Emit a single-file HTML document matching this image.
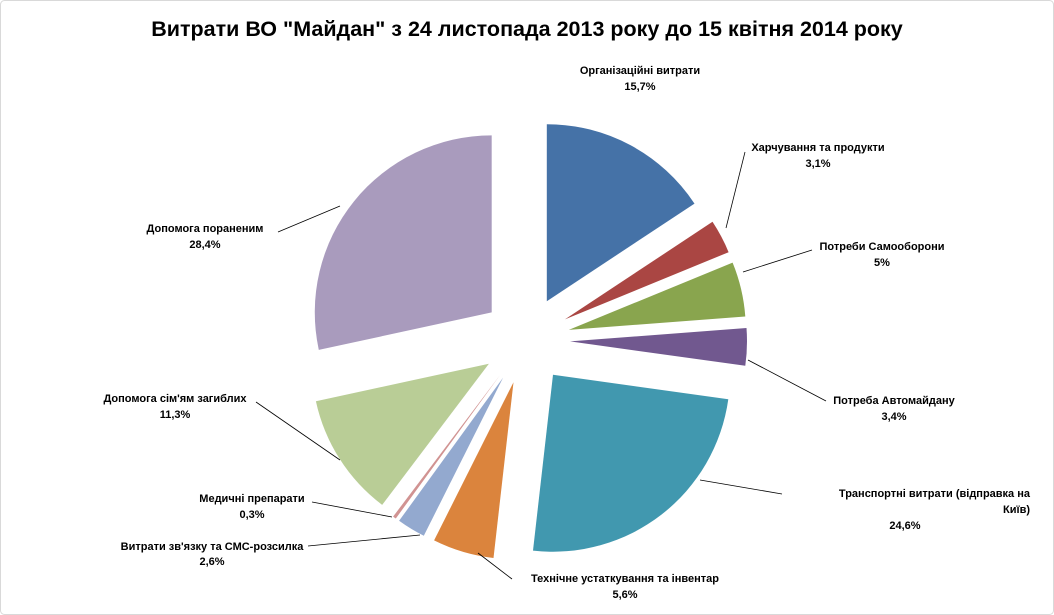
<!DOCTYPE html>
<html><head><meta charset="utf-8">
<style>
html,body{margin:0;padding:0;background:#fff;}
svg{display:block;}
text{font-family:"Liberation Sans","DejaVu Sans",sans-serif;font-weight:bold;font-size:11px;fill:#000;}
</style></head>
<body>
<svg id="s" width="1054" height="615" viewBox="0 0 1054 615" xmlns="http://www.w3.org/2000/svg">
<rect x="0.5" y="0.5" width="1053" height="614" rx="4" fill="#fff" stroke="#d9d9d9"/>
<text x="527" y="36" text-anchor="middle" style="font-size:21.5px">Витрати ВО "Майдан" з 24 листопада 2013 року до 15 квітня 2014 року</text>
<g id="pie"></g>
<g stroke="#000" stroke-width="0.8" fill="none">
<polyline points="745,152 726,228"/>
<polyline points="812,250 743,272"/>
<polyline points="748,360 826,401"/>
<polyline points="700,480 782,494"/>
<polyline points="478,553 512,579"/>
<polyline points="420,535 308,546"/>
<polyline points="312,502 392,517"/>
<polyline points="256,402 340,460"/>
<polyline points="278,232 340,206"/>
</g>
<text x="640" y="74" text-anchor="middle">Організаційні  витрати</text>
<text x="640" y="90" text-anchor="middle">15,7%</text>
<text x="818" y="151" text-anchor="middle">Харчування  та продукти</text>
<text x="818" y="167" text-anchor="middle">3,1%</text>
<text x="882" y="250" text-anchor="middle">Потреби Самооборони</text>
<text x="882" y="266" text-anchor="middle">5%</text>
<text x="894" y="404" text-anchor="middle">Потреба Автомайдану</text>
<text x="894" y="420" text-anchor="middle">3,4%</text>
<text x="1030" y="497" text-anchor="end">Транспортні витрати  (відправка  на</text>
<text x="1030" y="513" text-anchor="end">Київ)</text>
<text x="905" y="529" text-anchor="middle">24,6%</text>
<text x="625" y="582" text-anchor="middle">Технічне  устаткування   та інвентар</text>
<text x="625" y="598" text-anchor="middle">5,6%</text>
<text x="212" y="550" text-anchor="middle">Витрати зв'язку та СМС-розсилка</text>
<text x="212" y="565" text-anchor="middle">2,6%</text>
<text x="252" y="502" text-anchor="middle">Медичні  препарати</text>
<text x="252" y="518" text-anchor="middle">0,3%</text>
<text x="175" y="402" text-anchor="middle">Допомога сім'ям  загиблих</text>
<text x="175" y="418" text-anchor="middle">11,3%</text>
<text x="205" y="232" text-anchor="middle">Допомога пораненим</text>
<text x="205" y="248" text-anchor="middle">28,4%</text>
</svg>
<script>
var data=[[15.7,"#4572A7"],[3.1,"#AA4643"],[5,"#89A54E"],[3.4,"#71588F"],[24.6,"#4198AF"],[5.6,"#DB843D"],[2.6,"#93A9CF"],[0.3,"#D19392"],[11.3,"#B9CD96"],[28.4,"#A99BBD"]];
var cx=526,cy=340,r=177,d=44,a=0,g=document.getElementById("pie"),h="";
data.forEach(function(e){
 var a0=a*3.6*Math.PI/180,a1=(a+e[0])*3.6*Math.PI/180,m=(a0+a1)/2;a+=e[0];
 var ox=cx+d*Math.sin(m),oy=cy-d*Math.cos(m);
 var x0=ox+r*Math.sin(a0),y0=oy-r*Math.cos(a0),x1=ox+r*Math.sin(a1),y1=oy-r*Math.cos(a1);
 var large=(a1-a0)>Math.PI?1:0;
 h+='<path d="M'+ox.toFixed(1)+','+oy.toFixed(1)+' L'+x0.toFixed(1)+','+y0.toFixed(1)+' A'+r+','+r+' 0 '+large+' 1 '+x1.toFixed(1)+','+y1.toFixed(1)+' Z" fill="'+e[1]+'"/>';
});
g.innerHTML=h;
</script>
</body></html>
